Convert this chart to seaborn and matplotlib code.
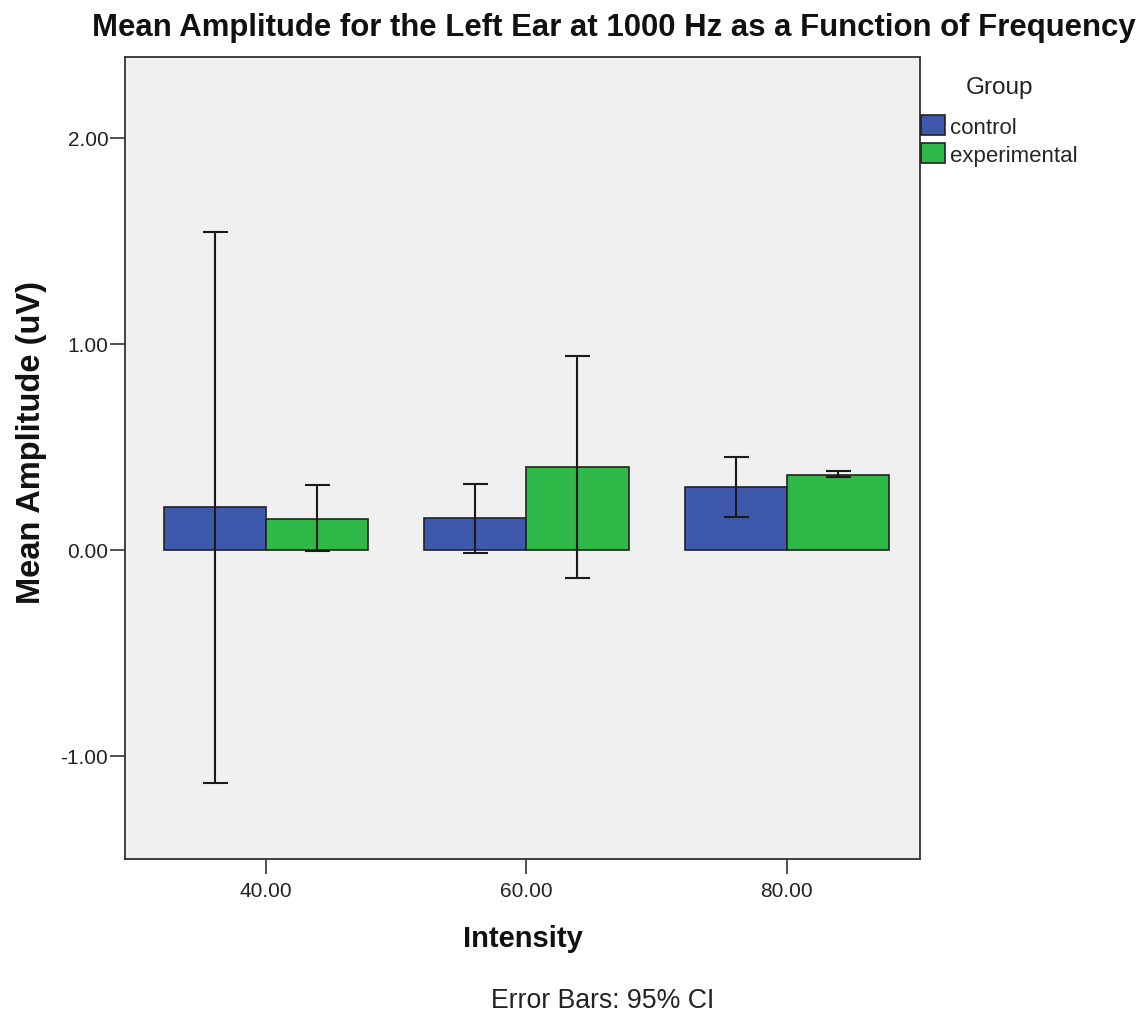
import matplotlib
matplotlib.use("Agg")
import matplotlib.pyplot as plt
import seaborn as sns
import pandas as pd
import numpy as np

intensity = ["40.00", "60.00", "80.00"]
groups = ["control", "experimental"]
control_mean = [0.207, 0.154, 0.307]
control_lo = [-1.131, -0.015, 0.159]
control_hi = [1.542, 0.319, 0.451]
exp_mean = [0.150, 0.404, 0.366]
exp_lo = [-0.003, -0.137, 0.353]
exp_hi = [0.316, 0.940, 0.382]

colors = {"control": "#3E58AC", "experimental": "#2EB848"}

df = pd.DataFrame({
    "Intensity": intensity * 2,
    "Group": ["control"] * 3 + ["experimental"] * 3,
    "Mean": control_mean + exp_mean,
    "lo": control_lo + exp_lo,
    "hi": control_hi + exp_hi,
})

sns.set_style("white")
plt.rcParams['font.family'] = ['Liberation Sans', 'DejaVu Sans']

W, H = 1148, 1012
fig = plt.figure(figsize=(W / 100, H / 100), dpi=100)
ax = fig.add_axes([125 / W, 1 - 860 / H, (920 - 125) / W, (860 - 58) / H])
ax.set_facecolor("#F0F0F0")

sns.barplot(data=df, x="Intensity", y="Mean", hue="Group", order=intensity,
            hue_order=groups, palette=colors, errorbar=None, width=0.785,
            edgecolor="#222222", linewidth=1.2, saturation=1, ax=ax)

for cont, g in zip(ax.containers, groups):
    sub = df[df["Group"] == g].set_index("Intensity").loc[intensity]
    xs = [p.get_x() + p.get_width() / 2 for p in cont.patches]
    m = sub["Mean"].values
    yerr = np.vstack([m - sub["lo"].values, sub["hi"].values - m])
    ax.errorbar(xs, m, yerr=yerr, fmt="none", ecolor="#1a1a1a",
                elinewidth=1.5, capsize=9, capthick=1.5, zorder=5)

ax.set_ylim(-1.5, 2.393)
ax.set_xlim(-0.542, 2.512)
ax.set_yticks([-1, 0, 1, 2])
ax.set_yticklabels([f"{v:.2f}" for v in [-1, 0, 1, 2]])

for s in ax.spines.values():
    s.set_visible(True)
    s.set_color("#333333")
    s.set_linewidth(1.3)

ax.tick_params(axis="both", direction="out", length=11, width=1.2,
               color="#333333", labelsize=15, labelcolor="#222222")
ax.tick_params(axis="y", pad=1)
ax.tick_params(axis="x", pad=5)
ax.tick_params(bottom=True, left=True)

ax.set_xlabel("Intensity", fontsize=21, fontweight="bold", color="#111111")
ax.set_ylabel("Mean Amplitude (uV)", fontsize=23.5, fontweight="bold", color="#111111")
ax.xaxis.set_label_coords(0.5, -(925 - 860) / 802)
ax.yaxis.set_label_coords((47 - 125) / 795, (860 - 442) / 802)

fig.text(614 / W, 1 - 28 / H,
         "Mean Amplitude for the Left Ear at 1000 Hz as a Function of Frequency",
         ha="center", va="center", fontsize=22.4, fontweight="bold", color="#111111")
fig.text(603 / W, 1 - 1001 / H, "Error Bars: 95% CI", ha="center", va="center",
         fontsize=19.2, color="#222222")

leg = ax.legend(title="Group", loc="upper left",
                bbox_to_anchor=(917 / W, 1 - 73 / H), bbox_transform=fig.transFigure,
                frameon=False, fontsize=16, title_fontsize=17.5,
                handlelength=1.05, handleheight=1.0, handletextpad=0.22,
                borderaxespad=0.0, borderpad=0.2, labelspacing=0.26)
leg.get_title().set_color("#222222")
leg._legend_box.sep = 12
for h in leg.legend_handles:
    h.set_edgecolor("#222222")
    h.set_linewidth(1.2)

fig.savefig("out.png", dpi=100, facecolor="white")
